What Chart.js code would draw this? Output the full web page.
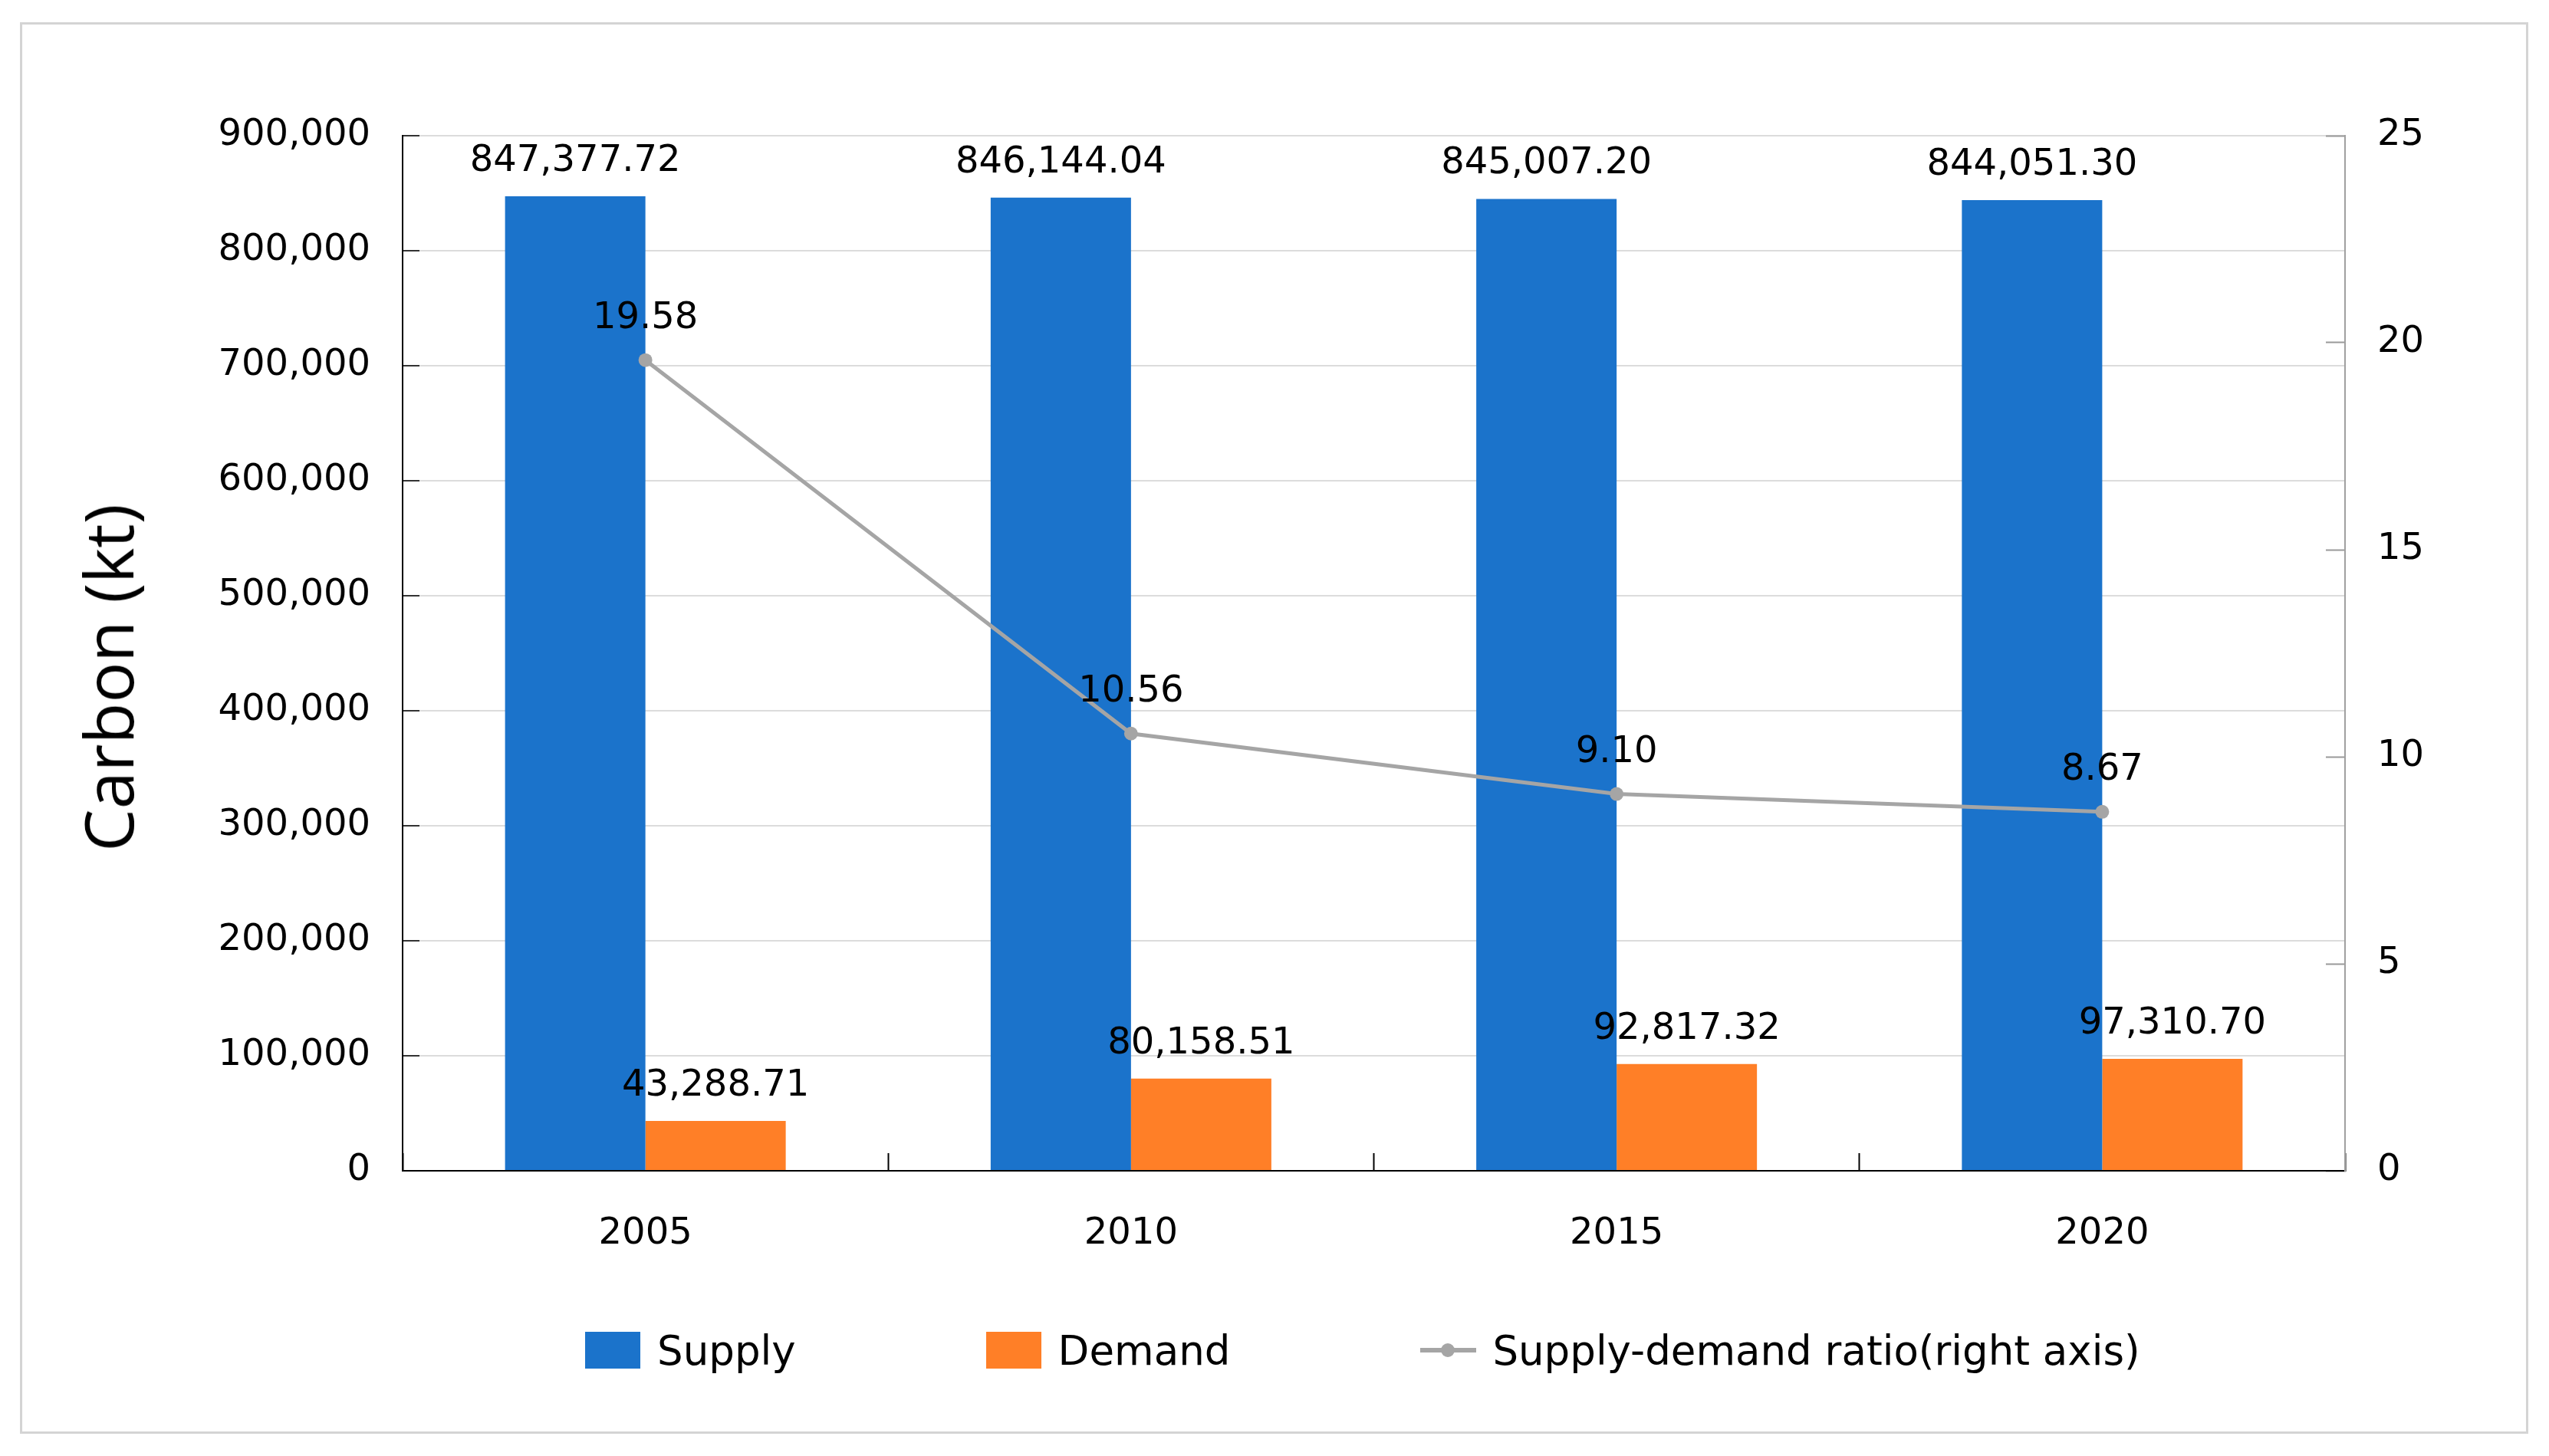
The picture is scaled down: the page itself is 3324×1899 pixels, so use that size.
<!DOCTYPE html>
<html>
<head>
<meta charset="utf-8">
<script src="https://cdn.jsdelivr.net/npm/chart.js@4.4.0/dist/chart.umd.min.js"></script>
<style>
  html, body { margin: 0; padding: 0; background: #ffffff; }
  #wrap { position: relative; width: 3324px; height: 1899px; overflow: hidden; }
  #frame { position: absolute; left: 26px; top: 29px; width: 3271px; height: 1841px;
           border: 3px solid #d4d4d4; box-sizing: border-box; }
  #cv { position: absolute; left: 0; top: 0; }
  #ytitle { position: absolute; left: 140px; top: 884px; transform: translate(-50%, -50%) rotate(-90deg);
            font-family: "Open Sans", sans-serif; font-size: 88px; color: #000; white-space: nowrap; }
  #legend { position: absolute; left: 763px; top: 1721px; height: 80px; display: flex; align-items: center;
            font-family: "DejaVu Sans", sans-serif; font-size: 53px; color: #000; white-space: nowrap; }
  .item { display: flex; align-items: center; margin-right: 248px; }
  .item:last-child { margin-right: 0; }
  .sw { width: 72px; height: 48px; margin-right: 22px; }
  .ln { position: relative; width: 73px; height: 48px; margin-right: 21px; }
  .ln .bar { position: absolute; left: 0; top: 21px; width: 73px; height: 6px; }
  .ln .dot { position: absolute; left: 27px; top: 15px; width: 18px; height: 18px; border-radius: 50%; }
</style>
</head>
<body>
<div id="wrap">
  <div id="frame"></div>
  <canvas id="cv" width="3324" height="1899"></canvas>
  <div id="ytitle">Carbon (kt)</div>
  <div id="legend"></div>
</div>
<script>
// ---- data ----
const categories = ['2005', '2010', '2015', '2020'];
const supply = [847377.72, 846144.04, 845007.20, 844051.30];
const demand = [43288.71, 80158.51, 92817.32, 97310.70];
const ratio = [19.58, 10.56, 9.10, 8.67];
const seriesNames = ['Supply', 'Demand', 'Supply-demand ratio(right axis)'];
const leftTicks = { min: 0, max: 900000, step: 100000 };
const rightTicks = { min: 0, max: 25, step: 5 };

const BLUE = '#1b73cb';
const ORANGE = '#ff7f27';
const GRAY = '#a5a5a5';
const FONT = '"DejaVu Sans", sans-serif';

const fmtComma = v => v.toLocaleString('en-US', { minimumFractionDigits: 2, maximumFractionDigits: 2 });

const valueLabels = {
  id: 'valueLabels',
  afterDatasetsDraw(chart) {
    const ctx = chart.ctx;
    ctx.save();
    ctx.font = '48px ' + FONT;
    ctx.fillStyle = '#000';
    ctx.textAlign = 'center';
    ctx.textBaseline = 'alphabetic';
    chart.data.datasets.forEach((ds, i) => {
      const meta = chart.getDatasetMeta(i);
      const isLine = ds.type === 'line';
      meta.data.forEach((el, j) => {
        const v = ds.data[j];
        const txt = isLine ? v.toFixed(2) : fmtComma(v);
        ctx.fillText(txt, el.x, el.y - (isLine ? 42 : 33));
      });
    });
    ctx.restore();
  }
};

Chart.defaults.font.family = FONT;
Chart.defaults.color = '#000';

const chart = new Chart(document.getElementById('cv'), {
  data: {
    labels: categories,
    datasets: [
      { type: 'bar', label: seriesNames[0], data: supply, backgroundColor: BLUE, yAxisID: 'y',
        categoryPercentage: 0.578, barPercentage: 1.0, order: 2 },
      { type: 'bar', label: seriesNames[1], data: demand, backgroundColor: ORANGE, yAxisID: 'y',
        categoryPercentage: 0.578, barPercentage: 1.0, order: 2 },
      { type: 'line', label: seriesNames[2], data: ratio, yAxisID: 'y1', borderColor: GRAY,
        backgroundColor: GRAY, borderWidth: 5, pointRadius: 9, pointBackgroundColor: GRAY,
        pointBorderColor: GRAY, pointBorderWidth: 0, tension: 0, order: 0 }
    ]
  },
  options: {
    responsive: false,
    animation: false,
    devicePixelRatio: 1,
    layout: { padding: { top: 177, left: 0, right: 0, bottom: 0 } },
    plugins: { legend: { display: false }, tooltip: { enabled: false } },
    scales: {
      x: {
        offset: true,
        grid: { display: true, offset: true, drawOnChartArea: false, drawTicks: true, tickLength: -23,
                tickColor: '#000', tickWidth: 2 },
        border: { display: true, color: '#000', width: 2 },
        ticks: { font: { size: 48 }, padding: 77, color: '#000' },
        afterFit(s) { s.height = 372; }
      },
      y: {
        position: 'left',
        min: leftTicks.min, max: leftTicks.max,
        ticks: { stepSize: leftTicks.step, font: { size: 48 }, padding: 64, color: '#000',
                 callback: v => Number(v).toLocaleString('en-US') },
        grid: { color: '#dcdcdc', lineWidth: 2, drawTicks: true, tickLength: -22, tickColor: '#333', tickWidth: 2 },
        border: { display: true, color: '#000', width: 2 },
        afterFit(s) { s.width = 525; }
      },
      y1: {
        position: 'right',
        min: rightTicks.min, max: rightTicks.max,
        ticks: { stepSize: rightTicks.step, font: { size: 48 }, padding: 67, color: '#000' },
        grid: { drawOnChartArea: false, drawTicks: true, tickLength: -25, tickColor: '#999', tickWidth: 2 },
        border: { display: true, color: '#a0a0a0', width: 2 },
        afterFit(s) { s.width = 266; }
      }
    }
  },
  plugins: [valueLabels]
});

// HTML legend built from the chart's datasets
const leg = document.getElementById('legend');
chart.data.datasets.forEach(ds => {
  const item = document.createElement('div');
  item.className = 'item';
  if (ds.type === 'line') {
    const m = document.createElement('div');
    m.className = 'ln';
    const b = document.createElement('div'); b.className = 'bar'; b.style.background = ds.borderColor;
    const d = document.createElement('div'); d.className = 'dot'; d.style.background = ds.borderColor;
    m.appendChild(b); m.appendChild(d);
    item.appendChild(m);
  } else {
    const s = document.createElement('div');
    s.className = 'sw'; s.style.background = ds.backgroundColor;
    item.appendChild(s);
  }
  const t = document.createElement('span');
  t.textContent = ds.label;
  item.appendChild(t);
  leg.appendChild(item);
});
</script>
</body>
</html>
